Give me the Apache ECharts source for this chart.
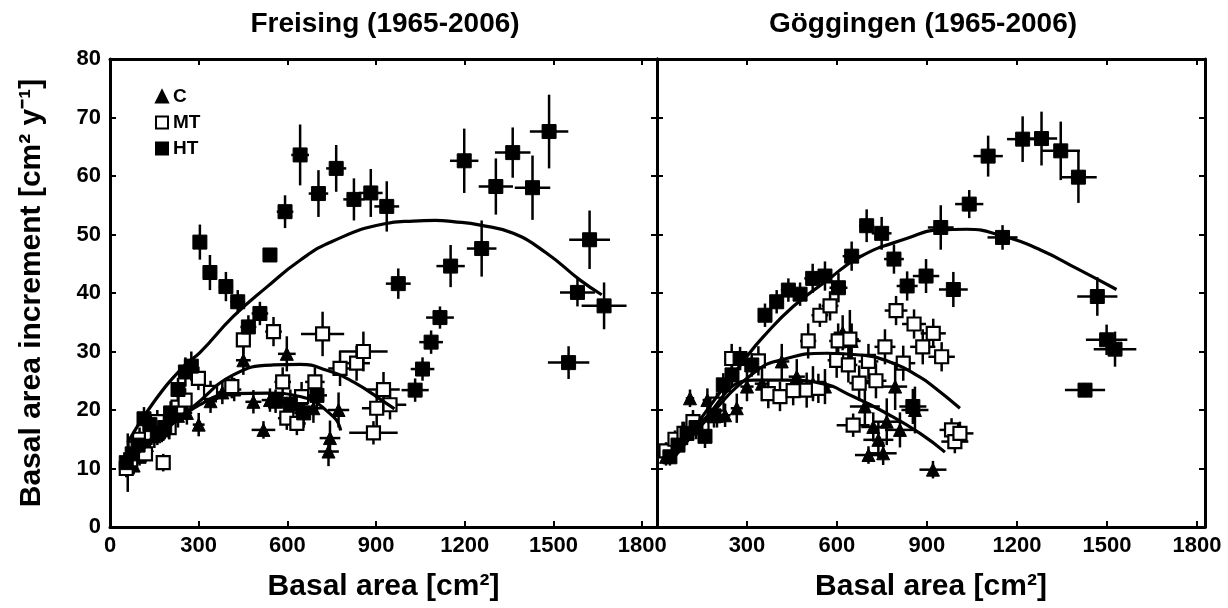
<!DOCTYPE html>
<html>
<head>
<meta charset="utf-8">
<script src="https://cdn.jsdelivr.net/npm/echarts@6/dist/echarts.min.js"></script>
<style>html,body{margin:0;padding:0;background:#fff;}#c{width:1228px;height:608px;}</style>
</head>
<body>
<div id="c"></div>
<script>
// ---------- tick labels / titles ----------
const panelTitles = ['Freising (1965-2006)', 'Göggingen (1965-2006)'];
const xTitle = 'Basal area [cm²]';
const yTitle = 'Basal area increment [cm² y⁻¹]';
const groups = ['C', 'MT', 'HT'];

// ---------- Freising (left) ----------
const L_HT_x = [55, 75, 95, 115, 135, 160, 185, 205, 230, 255, 275, 304, 338, 392, 432, 468, 507, 541, 560, 610, 655, 700, 592, 643, 705, 765, 825, 882, 936, 975, 1032, 1057, 1086, 1116, 1152, 1198, 1257, 1305, 1362, 1429, 1485, 1551, 1581, 1622, 1671];
const L_HT_y = [11, 12.5, 14, 18.5, 17.5, 16, 17, 19.5, 23.5, 26.5, 27.5, 48.7, 43.5, 41.1, 38.5, 34.2, 36.5, 46.5, 21.5, 21, 19.5, 22.5, 53.9, 63.6, 57.0, 61.3, 56.0, 57.1, 54.8, 41.6, 23.4, 27.0, 31.6, 35.8, 44.6, 62.6, 47.6, 58.2, 64.0, 58.0, 67.6, 28.1, 40.1, 49.1, 37.8];
const L_HT_xe = [12, 12, 14, 14, 15, 16, 16, 17, 18, 20, 20, 20, 22, 24, 25, 27, 28, 14, 30, 30, 32, 34, 28, 30, 33, 34, 36, 40, 42, 42, 46, 40, 40, 47, 48, 48, 50, 58, 60, 60, 65, 70, 59, 69, 76];
const L_HT_ye = [1.5, 1.5, 2, 2, 2, 2, 2, 2, 2, 2.5, 2.5, 3, 3, 2.5, 2, 2, 2, 1, 2, 2.5, 2.5, 2.5, 2.8, 5.2, 4, 4, 3.6, 4.1, 4.3, 2.6, 2, 2, 2, 1.9, 3.6, 5.5, 4.8, 4.8, 4.3, 5.5, 6.3, 2.8, 2.4, 5, 4];

const L_MT_x = [55, 70, 85, 100, 120, 140, 160, 180, 200, 230, 254, 299, 340, 412, 451, 553, 584, 598, 632, 648, 693, 719, 778, 834, 857, 891, 902, 925, 947];
const L_MT_y = [10, 11.5, 13.5, 15, 12.5, 16, 18, 11, 17, 20.5, 21.7, 25.4, 23, 24, 32, 33.4, 24.8, 18.6, 17.7, 22.3, 24.8, 33, 27.1, 28, 30, 16.1, 20.3, 23.5, 20.9];
const L_MT_xe = [12, 12, 14, 14, 15, 15, 16, 16, 17, 18, 20, 20, 22, 24, 25, 28, 28, 30, 30, 30, 33, 73, 40, 45, 82, 82, 50, 55, 55];
const L_MT_ye = [1.5, 1.5, 2, 2, 1.5, 2, 2, 1.5, 2, 2, 2, 2, 2, 2, 2.5, 2.5, 2.5, 2, 2, 2.5, 2.5, 3.8, 3, 3, 3.4, 2, 3, 3, 2.5];

const L_C_x = [60, 80, 100, 125, 150, 175, 200, 230, 260, 300, 340, 380, 420, 451, 485, 519, 541, 598, 640, 688, 739, 744, 773];
const L_C_y = [11, 10.5, 12, 14, 15.5, 16.5, 17, 19, 19.5, 17.5, 21.5, 23, 23.5, 28.5, 21.4, 16.6, 21.7, 29.6, 21, 20.3, 12.9, 15.2, 20];
const L_C_xe = [12, 12, 14, 14, 15, 15, 16, 17, 18, 20, 22, 22, 24, 25, 27, 40, 28, 30, 30, 33, 35, 35, 36];
const L_C_ye = [5, 1.5, 1.5, 2, 2, 2, 2, 2, 2, 2, 2, 2, 2, 2.5, 2, 1.5, 2, 3, 2, 2.5, 2.5, 3, 3];

const L_fitHT_x = [60, 150, 254, 304, 417, 530, 643, 755, 925, 1026, 1100, 1160, 1252, 1364, 1477, 1590, 1663];
const L_fitHT_y = [14.5, 21.5, 27.7, 29.8, 36.0, 41.0, 45.6, 48.9, 51.8, 52.3, 52.4, 52.2, 51.6, 50.2, 46.8, 42.2, 39.7];
const L_fitMT_x = [60, 150, 282, 417, 553, 643, 733, 823, 936, 962];
const L_fitMT_y = [11, 15.5, 20.6, 26.0, 27.7, 27.8, 26.8, 24.8, 21.1, 20.2];
const L_fitC_x = [60, 150, 304, 417, 530, 643, 755, 780];
const L_fitC_y = [11, 15, 20.9, 22.8, 22.9, 22.3, 18.9, 16.5];

// ---------- Göggingen (right) ----------
const R_HT_x = [43, 70, 100, 130, 160, 190, 221, 250, 277, 316, 360, 399, 438, 477, 519, 560, 605, 649, 699, 749, 790, 834, 853, 897, 946, 988, 1041, 1104, 1152, 1219, 1282, 1346, 1405, 1427, 1468, 1499, 1527];
const R_HT_y = [12, 14, 16, 17, 15.5, 19, 24.3, 26, 28.8, 27.7, 36.2, 38.5, 40.5, 39.8, 42.5, 42.9, 40.9, 46.3, 51.5, 50.2, 45.8, 41.2, 20.6, 42.9, 51.2, 40.6, 55.2, 63.4, 49.5, 66.3, 66.4, 64.3, 59.8, 23.4, 39.4, 32.0, 30.4];
const R_HT_xe = [12, 12, 13, 14, 15, 16, 18, 18, 20, 22, 22, 24, 25, 25, 28, 28, 30, 30, 25, 33, 33, 35, 45, 44, 43, 48, 47, 49, 50, 52, 52, 64, 61, 67, 67, 69, 71];
const R_HT_ye = [1.5, 1.5, 2, 2, 2, 2, 2, 2, 2, 2, 2, 2, 2, 2, 2.5, 2.5, 2.5, 2.5, 2.8, 2.8, 2.5, 2.5, 3, 2.9, 3.8, 3, 2.4, 3.5, 2.1, 3.9, 4.6, 5, 4.4, 1.2, 3.3, 2.6, 3];

const R_MT_x = [30, 60, 90, 120, 150, 200, 249, 338, 371, 410, 454, 499, 504, 538, 543, 577, 599, 604, 638, 643, 654, 674, 705, 730, 760, 797, 821, 857, 886, 921, 949, 982, 993, 1010];
const R_MT_y = [13, 15, 16, 18, 17, 21, 28.8, 28.4, 22.8, 22.3, 23.3, 23.4, 31.8, 23.7, 36.2, 37.8, 28.5, 31.8, 27.7, 32.1, 17.4, 24.6, 28.3, 25.0, 30.8, 37.0, 28.0, 34.7, 30.8, 33.1, 29.1, 16.6, 14.6, 16.0];
const R_MT_xe = [10, 12, 13, 14, 15, 16, 20, 22, 22, 24, 25, 25, 27, 27, 28, 28, 30, 30, 30, 30, 55, 33, 33, 35, 35, 38, 40, 40, 42, 42, 44, 40, 45, 45];
const R_MT_ye = [1.5, 1.5, 2, 2, 2, 2, 2.5, 2.5, 2.5, 2.5, 2.5, 3, 3, 2.5, 2, 2.5, 3, 3, 3, 5, 2, 3, 3, 3, 3, 2.5, 3, 2.5, 3, 2.5, 2.5, 2, 2, 2];

const R_C_x = [30, 60, 85, 110, 140, 168, 200, 227, 266, 300, 350, 416, 466, 520, 560, 619, 649, 693, 705, 721, 738, 754, 766, 794, 810, 860, 920];
const R_C_y = [12, 14, 16, 22, 17, 21.7, 19, 19.1, 20.3, 24, 24.5, 28.3, 25.7, 24.5, 24, 33.2, 31.8, 20.6, 12.3, 17.1, 14.9, 12.6, 18, 24, 16.6, 20, 9.8];
const R_C_xe = [10, 12, 13, 14, 15, 16, 17, 18, 20, 22, 24, 25, 27, 28, 30, 30, 30, 50, 45, 40, 50, 45, 45, 40, 50, 45, 45];
const R_C_ye = [1.5, 1.5, 2, 1.5, 2, 2, 2, 2, 2.5, 2.5, 3, 3, 3, 3, 3, 3, 3, 3.5, 1.5, 2.5, 3, 2, 4, 4, 3, 4, 1.5];

const R_fitHT_x = [43, 150, 299, 354, 454, 566, 677, 832, 943, 1032, 1154, 1277, 1399, 1532];
const R_fitHT_y = [10.9, 18.8, 29.1, 32.5, 37.7, 42.1, 46.2, 49.3, 50.8, 50.9, 49.7, 47.4, 44.2, 40.6];
const R_fitMT_x = [43, 150, 321, 432, 566, 677, 788, 877, 921, 1010];
const R_fitMT_y = [11, 17.5, 26.3, 28.8, 29.7, 29.4, 28.0, 25.6, 24.0, 20.3];
const R_fitC_x = [43, 150, 321, 432, 543, 654, 766, 877, 960];
const R_fitC_y = [11, 18, 25.1, 25.1, 24.6, 22.3, 19.4, 16.0, 12.8];

// ---------- helpers ----------
const FONT = '"Liberation Sans", Arial, sans-serif';
const zip = (a, b) => a.map((v, i) => [v, b[i]]);
const zip4 = (a, b, c, d) => a.map((v, i) => [v, b[i], c[i], d[i]]);

function renderErr(params, api) {
  const x = api.value(0), y = api.value(1), xe = api.value(2), ye = api.value(3);
  const a = api.coord([x - xe, y]), b = api.coord([x + xe, y]);
  const c = api.coord([x, y - ye]), d = api.coord([x, y + ye]);
  const st = { stroke: '#000', lineWidth: 2.5 };
  return { type: 'group', children: [
    { type: 'line', shape: { x1: a[0], y1: a[1], x2: b[0], y2: b[1] }, style: st },
    { type: 'line', shape: { x1: c[0], y1: c[1], x2: d[0], y2: d[1] }, style: st }
  ] };
}

const marker = {
  C:  { symbol: 'triangle', symbolSize: 13, itemStyle: { color: '#000', borderColor: '#000', borderWidth: 1, opacity: 1 } },
  MT: { symbol: 'rect', symbolSize: 13, itemStyle: { color: '#fff', borderColor: '#000', borderWidth: 2.2, opacity: 1 } },
  HT: { symbol: 'rect', symbolSize: 14, itemStyle: { color: '#000', borderColor: '#000', borderWidth: 1, opacity: 1 } }
};

function errSeries(idx, x, y, xe, ye) {
  return { type: 'custom', xAxisIndex: idx * 2, yAxisIndex: idx * 2, renderItem: renderErr,
    encode: { x: 0, y: 1 }, data: zip4(x, y, xe, ye), z: 2, silent: true };
}
function ptSeries(idx, name, x, y) {
  return Object.assign({ type: 'scatter', name: name, xAxisIndex: idx * 2, yAxisIndex: idx * 2,
    data: zip(x, y), z: 3, silent: true }, marker[name]);
}
function fitSeries(idx, x, y) {
  return { type: 'line', xAxisIndex: idx * 2, yAxisIndex: idx * 2, data: zip(x, y), smooth: 0.5,
    showSymbol: false, symbol: 'none', lineStyle: { color: '#000', width: 3.2 }, z: 4, silent: true };
}

const tick = { show: true, inside: true, length: 6, lineStyle: { color: '#000', width: 2 } };
const axLine = { show: true, onZero: false, lineStyle: { color: '#000', width: 3 } };
const labelStyle = { color: '#000', fontFamily: FONT, fontWeight: 'bold', fontSize: 22 };
const nameStyle = { color: '#000', fontFamily: FONT, fontWeight: 'bold', fontSize: 30 };
const titleStyle = { color: '#000', fontFamily: FONT, fontWeight: 'bold', fontSize: 28 };

function xAxes(gi, max, hideZero) {
  return [
    { type: 'value', gridIndex: gi, position: 'bottom', min: 0, max: max, interval: 300,
      axisLine: axLine, axisTick: tick, splitLine: { show: false },
      axisLabel: Object.assign({ margin: 8, formatter: v => (v % 300 === 0 && !(hideZero && v === 0)) ? String(v) : '' }, labelStyle),
      name: xTitle, nameLocation: 'middle', nameGap: 45, nameTextStyle: nameStyle },
    { type: 'value', gridIndex: gi, position: 'top', min: 0, max: max, interval: 300,
      axisLine: axLine, axisTick: tick, splitLine: { show: false }, axisLabel: { show: false } }
  ];
}
function yAxes(gi, showLabels) {
  const main = { type: 'value', gridIndex: gi, position: 'left', min: 0, max: 80, interval: 10,
    axisLine: axLine, axisTick: tick, splitLine: { show: false },
    axisLabel: Object.assign({ show: showLabels, margin: 9 }, labelStyle) };
  if (showLabels) Object.assign(main, { name: yTitle, nameLocation: 'middle', nameGap: 63, nameTextStyle: nameStyle });
  return [main,
    { type: 'value', gridIndex: gi, position: 'right', min: 0, max: 80, interval: 10,
      axisLine: axLine, axisTick: tick, splitLine: { show: false }, axisLabel: { show: false } }];
}

const option = {
  animation: false,
  backgroundColor: '#fff',
  title: [
    { text: panelTitles[0], left: 380, top: 5, textAlign: 'center', textStyle: titleStyle },
    { text: panelTitles[1], left: 918, top: 5, textAlign: 'center', textStyle: titleStyle }
  ],
  legend: { data: groups, orient: 'vertical', left: 150, top: 82, itemGap: 7, itemWidth: 12, itemHeight: 12,
    textStyle: { color: '#000', fontFamily: FONT, fontWeight: 'bold', fontSize: 19 }, selectedMode: false },
  grid: [
    { left: 110, top: 59, width: 547, height: 468 },
    { left: 657, top: 59, width: 548, height: 468 }
  ],
  xAxis: [].concat(xAxes(0, 1850, false), xAxes(1, 1827, true)),
  yAxis: [].concat(yAxes(0, true), yAxes(1, false)),
  series: [
    errSeries(0, L_C_x, L_C_y, L_C_xe, L_C_ye),
    errSeries(0, L_MT_x, L_MT_y, L_MT_xe, L_MT_ye),
    errSeries(0, L_HT_x, L_HT_y, L_HT_xe, L_HT_ye),
    errSeries(1, R_C_x, R_C_y, R_C_xe, R_C_ye),
    errSeries(1, R_MT_x, R_MT_y, R_MT_xe, R_MT_ye),
    errSeries(1, R_HT_x, R_HT_y, R_HT_xe, R_HT_ye),
    ptSeries(0, 'C', L_C_x, L_C_y),
    ptSeries(0, 'MT', L_MT_x, L_MT_y),
    ptSeries(0, 'HT', L_HT_x, L_HT_y),
    ptSeries(1, 'C', R_C_x, R_C_y),
    ptSeries(1, 'MT', R_MT_x, R_MT_y),
    ptSeries(1, 'HT', R_HT_x, R_HT_y),
    fitSeries(0, L_fitHT_x, L_fitHT_y),
    fitSeries(0, L_fitMT_x, L_fitMT_y),
    fitSeries(0, L_fitC_x, L_fitC_y),
    fitSeries(1, R_fitHT_x, R_fitHT_y),
    fitSeries(1, R_fitMT_x, R_fitMT_y),
    fitSeries(1, R_fitC_x, R_fitC_y)
  ]
};
const chart = echarts.init(document.getElementById('c'), null, { renderer: 'canvas' });
chart.setOption(option);
</script>
</body>
</html>
